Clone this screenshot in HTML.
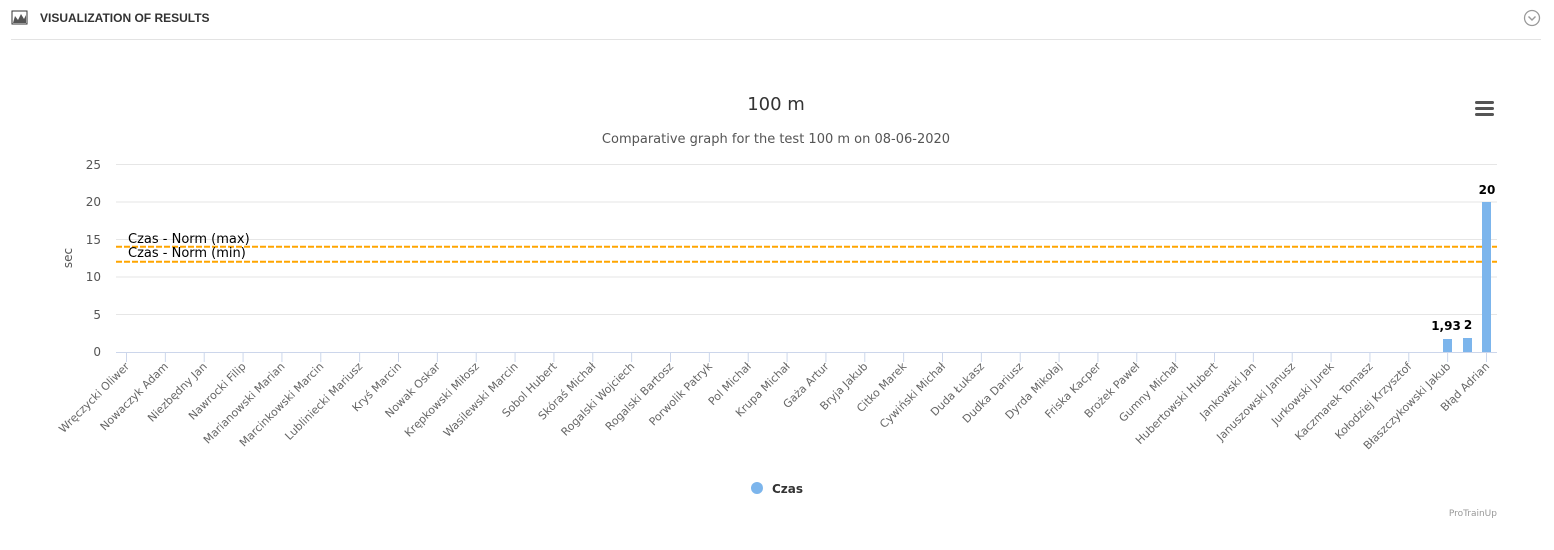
<!DOCTYPE html>
<html><head><meta charset="utf-8"><style>
body{margin:0;width:1554px;height:545px;background:#fff;overflow:hidden;font-family:"Liberation Sans",sans-serif}
</style></head><body>
<svg width="1554" height="545" xmlns="http://www.w3.org/2000/svg" font-family="DejaVu Sans, sans-serif">
<rect x="12" y="11" width="15" height="13" fill="#fff" stroke="#333" stroke-width="1"/>
<path d="M13 23 L15 16 L18 20 L21 14 L24 19 L26 15 L26 23Z" fill="#555"/>
<text x="40" y="22" font-size="12" font-weight="bold" fill="#333" font-family="Liberation Sans, sans-serif">VISUALIZATION OF RESULTS</text>
<line x1="11" y1="39.5" x2="1541" y2="39.5" stroke="#e3e3e3"/>
<circle cx="1532" cy="18" r="7.5" fill="none" stroke="#999" stroke-width="1.3"/>
<path d="M1528.5 16.5 L1532 20 L1535.5 16.5" fill="none" stroke="#999" stroke-width="1.4"/>
<text x="776" y="110" font-size="18" fill="#333" text-anchor="middle">100 m</text>
<text x="776" y="143" font-size="13" fill="#555" text-anchor="middle">Comparative graph for the test 100 m on 08-06-2020</text>
<g fill="#555"><rect x="1475" y="101" width="19" height="3" rx="1.5"/><rect x="1475" y="107" width="19" height="3" rx="1.5"/><rect x="1475" y="113" width="19" height="3" rx="1.5"/></g>
<g stroke="#e6e6e6"><line x1="116" x2="1497" y1="164.5" y2="164.5"/><line x1="116" x2="1497" y1="202" y2="202"/><line x1="116" x2="1497" y1="239.5" y2="239.5"/><line x1="116" x2="1497" y1="277" y2="277"/><line x1="116" x2="1497" y1="314.5" y2="314.5"/></g>
<g font-size="12" fill="#555" text-anchor="end"><text x="101" y="169">25</text><text x="101" y="206">20</text><text x="101" y="244">15</text><text x="101" y="281">10</text><text x="101" y="319">5</text><text x="101" y="356">0</text></g>
<text transform="translate(72,258) rotate(-90)" font-size="12" fill="#555" text-anchor="middle">sec</text>
<line x1="116" x2="1497" y1="246.7" y2="246.7" stroke="#FFA500" stroke-width="2" stroke-dasharray="6,2"/>
<line x1="116" x2="1497" y1="261.8" y2="261.8" stroke="#FFA500" stroke-width="2" stroke-dasharray="6,2"/>
<text x="128" y="243" font-size="13" fill="#000">Czas - Norm (max)</text>
<text x="128" y="257" font-size="13" fill="#000">Czas - Norm (min)</text>
<g fill="#7cb5ec"><rect x="1443" y="339" width="9" height="13"/><rect x="1463" y="338" width="9" height="14"/><rect x="1482" y="202" width="9" height="150"/></g>
<g font-size="12" font-weight="bold" fill="#000" text-anchor="middle"><text x="1446" y="330">1,93</text><text x="1468" y="329">2</text><text x="1487" y="194">20</text></g>
<line x1="116" x2="1497" y1="352.5" y2="352.5" stroke="#ccd6eb"/>
<g id="ticks" stroke="#ccd6eb"></g>
<g id="labels" font-size="11" fill="#666" text-anchor="end"></g>
<circle cx="757" cy="488" r="6" fill="#7cb5ec"/>
<text x="772" y="493" font-size="12" font-weight="bold" fill="#333">Czas</text>
<text x="1497" y="516" font-size="9" fill="#999" text-anchor="end">ProTrainUp</text>
</svg>
<script>
var n=["Wręczycki Oliwer","Nowaczyk Adam","Niezbędny Jan","Nawrocki Filip","Marianowski Marian","Marcinkowski Marcin","Lubliniecki Mariusz","Kryś Marcin","Nowak Oskar","Krępkowski Miłosz","Wasilewski Marcin","Sobol Hubert","Skóraś Michał","Rogalski Wojciech","Rogalski Bartosz","Porwolik Patryk","Pol Michał","Krupa Michał","Gaża Artur","Bryja Jakub","Citko Marek","Cywiński Michał","Duda Łukasz","Dudka Dariusz","Dyrda Mikołaj","Friska Kacper","Brożek Paweł","Gumny Michał","Hubertowski Hubert","Jankowski Jan","Januszowski Janusz","Jurkowski Jurek","Kaczmarek Tomasz","Kołodziej Krzysztof","Błaszczykowski Jakub","Błąd Adrian"];
var ns="http://www.w3.org/2000/svg",T=document.getElementById("ticks"),L=document.getElementById("labels");
n.forEach(function(s,i){var x=126+i*(1486-126)/35;
var l=document.createElementNS(ns,"line");l.setAttribute("x1",x+.5);l.setAttribute("x2",x+.5);l.setAttribute("y1",352);l.setAttribute("y2",362);T.appendChild(l);
var t=document.createElementNS(ns,"text");t.setAttribute("x",x+4);t.setAttribute("y",367);t.setAttribute("transform","rotate(-45 "+(x+4)+" 367)");t.textContent=s;L.appendChild(t);});
</script>
</body></html>
